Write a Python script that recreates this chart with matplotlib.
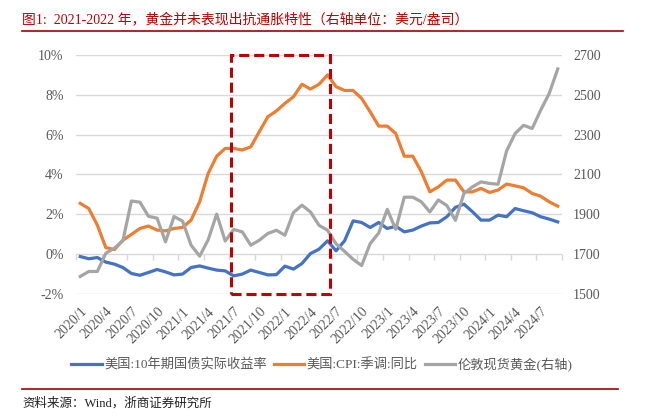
import numpy as np
import matplotlib
matplotlib.use("Agg")
import matplotlib.pyplot as plt
from matplotlib.patches import Rectangle
from matplotlib.lines import Line2D

plt.rcParams['font.family'] = ['Liberation Serif', 'Noto Sans CJK SC', 'DejaVu Sans']

tick_labels = ['2020/1', '2020/4', '2020/7', '2020/10', '2021/1', '2021/4', '2021/7',
               '2021/10', '2022/1', '2022/4', '2022/7', '2022/10', '2023/1', '2023/4',
               '2023/7', '2023/10', '2024/1', '2024/4', '2024/7']

# monthly, 2020/1 .. 2024/9
real_yield = [-0.12, -0.23, -0.17, -0.40, -0.50, -0.67, -0.97, -1.06, -0.92, -0.77,
              -0.89, -1.04, -1.00, -0.67, -0.59, -0.70, -0.80, -0.84, -1.09, -1.00,
              -0.80, -0.92, -1.04, -1.03, -0.60, -0.75, -0.47, 0.03, 0.25, 0.67,
              0.17, 0.67, 1.67, 1.59, 1.34, 1.59, 1.29, 1.40, 1.12, 1.21,
              1.41, 1.57, 1.59, 1.88, 2.35, 2.51, 2.13, 1.71, 1.71, 1.96,
              1.88, 2.29, 2.18, 2.08, 1.88, 1.76, 1.62]
cpi = [2.55, 2.29, 1.46, 0.33, 0.23, 0.70, 0.99, 1.29, 1.41, 1.21,
       1.17, 1.29, 1.34, 1.71, 2.63, 4.05, 4.92, 5.31, 5.31, 5.23,
       5.39, 6.15, 6.90, 7.19, 7.57, 7.90, 8.53, 8.29, 8.53, 9.00,
       8.41, 8.22, 8.22, 7.82, 7.15, 6.43, 6.43, 6.06, 4.92, 4.92,
       4.14, 3.13, 3.38, 3.72, 3.72, 3.13, 3.13, 3.30, 3.10, 3.22,
       3.52, 3.43, 3.33, 3.05, 2.91, 2.63, 2.41]
gold = [1588, 1613, 1613, 1705, 1730, 1768, 1967, 1961, 1890, 1881,
        1762, 1889, 1866, 1745, 1690, 1772, 1901, 1766, 1824, 1812,
        1745, 1770, 1804, 1820, 1795, 1909, 1946, 1912, 1845, 1820,
        1752, 1714, 1674, 1643, 1753, 1806, 1925, 1825, 1986, 1986,
        1963, 1912, 1972, 1944, 1870, 2005, 2038, 2063, 2055, 2051,
        2218, 2306, 2347, 2331, 2423, 2507, 2630]

names = ['美国:10年期国债实际收益率', '美国:CPI:季调:同比', '伦敦现货黄金(右轴)']

x = np.arange(len(cpi))
tick_color = '#595959'
grid_color = '#d9d9d9'

fig = plt.figure(figsize=(6.48, 4.17), dpi=100)
ax = fig.add_axes([76 / 648, 1 - 294 / 417, 486 / 648, 239 / 417])
ax2 = ax.twinx()

l1, = ax.plot(x, real_yield, color='#4472c4', lw=2.3, solid_joinstyle='round')
l2, = ax.plot(x, cpi, color='#ed7d31', lw=2.3, solid_joinstyle='round')
l3, = ax2.plot(x, gold, color='#a5a5a5', lw=2.3, solid_joinstyle='round')

ax.set_xlim(-0.5, len(cpi) - 0.5)
ax.set_ylim(-2, 10)
ax.set_yticks(np.arange(-2, 11, 2))
ax.set_yticklabels([f'{v}%' for v in range(-2, 11, 2)])
ax.yaxis.grid(True, color=grid_color, lw=1.0)
ax.set_axisbelow(True)
ax2.set_ylim(1500, 2700)
ax2.set_yticks(np.arange(1500, 2701, 200))

for a in (ax, ax2):
    for s in a.spines.values():
        s.set_visible(False)
ax.tick_params(axis='y', length=0, pad=9, labelsize=10, labelcolor=tick_color)
ax2.tick_params(axis='y', length=0, pad=8, labelsize=10, labelcolor=tick_color)

ax.set_xticks(x[::3])
ax.set_xticklabels(tick_labels, rotation=45, ha='right', va='top', rotation_mode='anchor')
ax.tick_params(axis='x', length=0, pad=8, labelsize=10, labelcolor=tick_color)

# tick marks sitting on the 0% line
sec = ax.secondary_xaxis(1 / 6)
sec.set_xticks(np.arange(-0.5, len(cpi), 3))
sec.tick_params(axis='x', length=4, width=1, color=grid_color, labelbottom=False, labeltop=False)
for s in sec.spines.values():
    s.set_visible(False)

# highlight box 2021/7 - 2022/6
box = Rectangle((17.7, -2), 11.6, 12, fill=False, ec='#c00000', lw=2.2,
                ls=(0, (3.3, 1.6)), transform=ax.transData, clip_on=False, zorder=6)
ax2.add_patch(box)

fig.legend([l1, l2, l3], names, loc='center', bbox_to_anchor=(322 / 648, 1 - 365 / 417),
           ncol=3, frameon=False, fontsize=9.5, handlelength=2.3, handletextpad=0.2,
           columnspacing=0.5, labelcolor=tick_color)

title_color = '#c00000'
fig.text(22 / 648, 1 - 20 / 417, '图1:  2021-2022 年，黄金并未表现出抗通胀特性（右轴单位：美元/盎司）',
         color=title_color, fontsize=10, va='center', ha='left')
fig.add_artist(Line2D([22 / 648, 623 / 648], [1 - 31 / 417] * 2, color='#a50000', lw=1.2))
fig.add_artist(Line2D([22 / 648, 618 / 648], [1 - 389 / 417] * 2, color='#a50000', lw=1.2))
fig.text(22 / 648, 1 - 403 / 417, '资料来源：Wind，浙商证券研究所', color='#222222',
         fontsize=9, va='center', ha='left')

fig.savefig('out.png', dpi=100)
